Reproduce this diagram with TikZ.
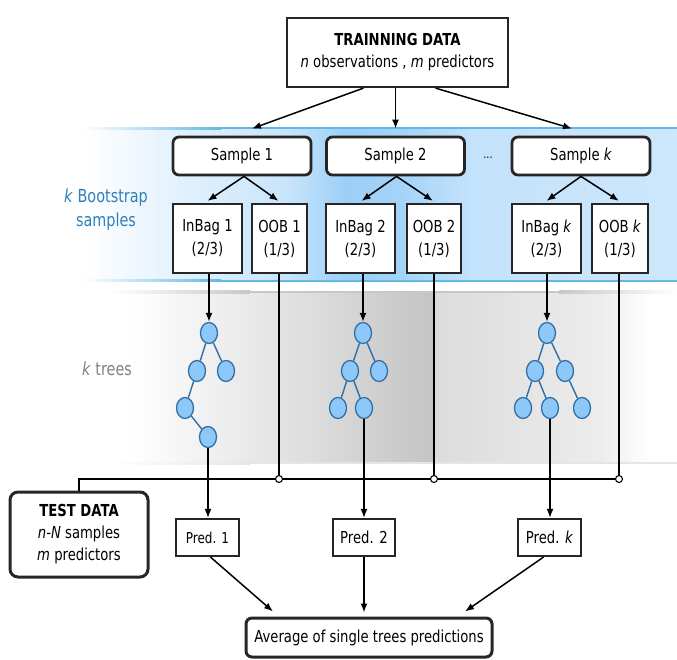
\documentclass[tikz,border=0pt]{standalone}
\usepackage{fontspec}
\setmainfont[FakeStretch=0.8]{DejaVu Sans}
\usetikzlibrary{shapes.geometric,calc,arrows.meta}
\definecolor{bla}{HTML}{E2F1FD}
\definecolor{blb}{HTML}{C6E4FB}
\definecolor{blc}{HTML}{9CCFF8}
\definecolor{bld}{HTML}{A4D3F8}
\definecolor{ble}{HTML}{C3E2FB}
\definecolor{blf}{HTML}{CDE7FC}
\definecolor{blline}{HTML}{62B8E4}
\definecolor{gra}{HTML}{E3E3E3}
\definecolor{grb}{HTML}{C4C4C4}
\definecolor{grc}{HTML}{DCDCDC}
\definecolor{grd}{HTML}{ECECEC}
\definecolor{treefill}{HTML}{8EC8F8}
\definecolor{treeedge}{HTML}{2F6FA5}
\definecolor{labblue}{HTML}{2F80B8}
\definecolor{border}{HTML}{262626}
\tikzset{
  bx/.style={draw=border, fill=white, line width=2.2pt, inner sep=0pt, align=center,
    font=\fontsize{16.5}{23}\selectfont},
  rbx/.style={bx, rounded corners=6pt, line width=2.8pt},
  tn/.style={ellipse, draw=treeedge, fill=treefill, line width=1.3pt,
    minimum width=17pt, minimum height=21pt, inner sep=0pt},
  te/.style={draw=treeedge, line width=1.4pt},
  arr/.style={-{Latex[length=9pt,width=7pt]}, line width=1.5pt, black},
  conn/.style={line width=1.5pt, black},
  oc/.style={circle, draw=black, fill=white, line width=1.1pt, minimum size=7pt, inner sep=0pt},
  lbl/.style={align=center, font=\fontsize{18}{24}\selectfont}
}
\begin{document}
\begin{tikzpicture}[x=1pt,y=-1pt]
\useasboundingbox (0,0) rectangle (677,660);
% blue band
\shade[left color=white, right color=bla] (82,129) rectangle (181,281);
\shade[left color=bla, right color=blb] (180,129) rectangle (291,281);
\shade[left color=blb, right color=blc] (290,129) rectangle (346,281);
\shade[left color=blc, right color=bld] (345,129) rectangle (401,281);
\shade[left color=bld, right color=ble] (400,129) rectangle (471,281);
\shade[left color=ble, right color=blf] (470,129) rectangle (677,281);
\shade[left color=white, right color=blline] (82,127.5) rectangle (221,129.5);
\fill[blline] (220,127.5) rectangle (677,129.5);
\shade[left color=white, right color=blline] (82,280) rectangle (221,282);
\fill[blline] (220,280) rectangle (677,282);
% grey band
\shade[left color=white, right color=gra] (130,293) rectangle (281,463);
\shade[left color=gra, right color=grb] (280,293) rectangle (434,463);
\shade[left color=grc, right color=grd] (434,293) rectangle (601,463);
\shade[left color=grd, right color=white] (600,293) rectangle (650,463);
\shade[left color=white, right color=black!22] (110,290.5) rectangle (250,293);
\fill[black!22] (249,290.5) rectangle (560,293);
\shade[left color=black!22, right color=white] (559,290.5) rectangle (677,293);
\shade[left color=white, right color=black!10] (110,462) rectangle (250,464);
\fill[black!10] (249,462) rectangle (677,464);

% labels
\node[lbl, text=labblue] (lb1) at (106,210) {\textit{k} Bootstrap\\samples};
\node[lbl, text=black!50] (lb2) at (107,369) {\textit{k} trees};

% training
\node[bx, minimum width=221pt, minimum height=69pt, font=\fontsize{16.5}{22}\selectfont] (train) at (397.5,52.5)
  {{\bfseries TRAINNING DATA}\\\textit{n} observations , \textit{m} predictors};

% samples
\node[rbx, minimum width=138pt, minimum height=38pt] (s1) at (242,156) {Sample 1};
\node[rbx, minimum width=138pt, minimum height=38pt] (s2) at (395.5,156) {Sample 2};
\node[rbx, minimum width=138pt, minimum height=38pt] (sk) at (581,156) {Sample \textit{k}};
\node[font=\fontsize{12}{14}\selectfont] (dots) at (488,158) {...};

% inbag / oob
\node[bx, minimum width=69pt, minimum height=69pt] (i1) at (207.5,238.5) {InBag 1\\(2/3)};
\node[bx, minimum width=55pt, minimum height=69pt] (o1) at (279.5,238.5) {OOB 1\\(1/3)};
\node[bx, minimum width=69pt, minimum height=69pt] (i2) at (360.5,238.5) {InBag 2\\(2/3)};
\node[bx, minimum width=54pt, minimum height=69pt] (o2) at (434,238.5) {OOB 2\\(1/3)};
\node[bx, minimum width=69pt, minimum height=69pt] (ik) at (546.5,238.5) {InBag \textit{k}\\(2/3)};
\node[bx, minimum width=56pt, minimum height=69pt] (ok) at (620,238.5) {OOB \textit{k}\\(1/3)};

% arrows training -> samples
\draw[arr] ($(train.south)+(-34,0)$) -- ($(s1.north)+(10,-7)$);
\draw[arr] (s2.north |- train.south) -- ($(s2.north)+(0,-7)$);
\draw[arr] ($(train.south)+(38,0)$) -- ($(sk.north)+(-9,-7)$);
% samples -> inbag/oob
\draw[arr] ($(s1.south)+(2,0)$) -- ($(i1.north)+(0,-2)$);
\draw[arr] ($(s1.south)+(2,0)$) -- ($(o1.north)+(-1,-2)$);
\draw[arr] ($(s2.south)+(1,0)$) -- ($(i2.north)+(1,-2)$);
\draw[arr] ($(s2.south)+(1,0)$) -- ($(o2.north)+(-1,-2)$);
\draw[arr] (sk.south) -- ($(ik.north)+(0,-2)$);
\draw[arr] (sk.south) -- ($(ok.north)+(-1,-2)$);

% trees
\node[tn] (r1) at (209,333) {};
\node[tn] (a1) at (197,371) {};
\node[tn] (b1) at (226,371) {};
\node[tn] (c1) at (185,408) {};
\node[tn] (d1) at (208,437) {};
\node[tn] (r2) at (363,333) {};
\node[tn] (a2) at (350,371) {};
\node[tn] (b2) at (379,371) {};
\node[tn] (c2) at (338,408) {};
\node[tn] (d2) at (364,408) {};
\node[tn] (rk) at (547,333) {};
\node[tn] (ak) at (535,371) {};
\node[tn] (bk) at (565,371) {};
\node[tn] (ck) at (523,408) {};
\node[tn] (dk) at (550,408) {};
\node[tn] (ek) at (582,408) {};
\draw[te] (r1) -- (a1) (r1) -- (b1) (a1) -- (c1) (c1) -- (d1);
\draw[te] (r2) -- (a2) (r2) -- (b2) (a2) -- (c2) (a2) -- (d2);
\draw[te] (rk) -- (ak) (rk) -- (bk) (ak) -- (ck) (ak) -- (dk) (bk) -- (ek);

% inbag -> roots
\draw[arr] (r1 |- i1.south) -- (r1.north);
\draw[arr] (r2 |- i2.south) -- (r2.north);
\draw[arr] (rk |- ik.south) -- (rk.north);

% test data
\node[rbx, minimum width=138pt, minimum height=85pt, rounded corners=8pt, line width=3pt,
  font=\fontsize{16.5}{22}\selectfont] (test) at (79,534.5)
  {{\bfseries TEST DATA}\\\textit{n-N} samples\\\textit{m} predictors};

% bus
\coordinate (busE) at (619,479);
\draw[conn] (test.north) |- (busE);
\node[oc] (oc1) at (279,479) {};
\node[oc] (oc2) at (434,479) {};
\node[oc] (ock) at (619,479) {};
\draw[conn] (oc1 |- o1.south) -- (oc1.north);
\draw[conn] (oc2 |- o2.south) -- (oc2.north);
\draw[conn] (ock |- ok.south) -- (ock.north);

% predictions
\node[bx, minimum width=63pt, minimum height=37pt, font=\fontsize{15}{18}\selectfont] (p1) at (207.5,537.5) {Pred. 1};
\node[bx, minimum width=62pt, minimum height=37pt] (p2) at (364,537.5) {Pred. 2};
\node[bx, minimum width=63pt, minimum height=37pt] (pk) at (549.5,537.5) {Pred. \textit{k}};
\draw[arr] (d1.south) -- (d1.south |- p1.north);
\draw[arr] (d2.south) -- (d2.south |- p2.north);
\draw[arr] (dk.south) -- (dk.south |- pk.north);

% average
\node[rbx, minimum width=246pt, minimum height=39pt, line width=3pt] (avg) at (369,637.5)
  {Average of single trees predictions};
\draw[arr] ($(p1.south)+(3,0)$) -- ($(avg.north)+(-96,-5)$);
\draw[arr] (p2.south) -- ($(p2.south |- avg.north)+(0,-4)$);
\draw[arr] ($(pk.south)+(-6,0)$) -- ($(avg.north)+(96,-5)$);
\end{tikzpicture}
\end{document}
